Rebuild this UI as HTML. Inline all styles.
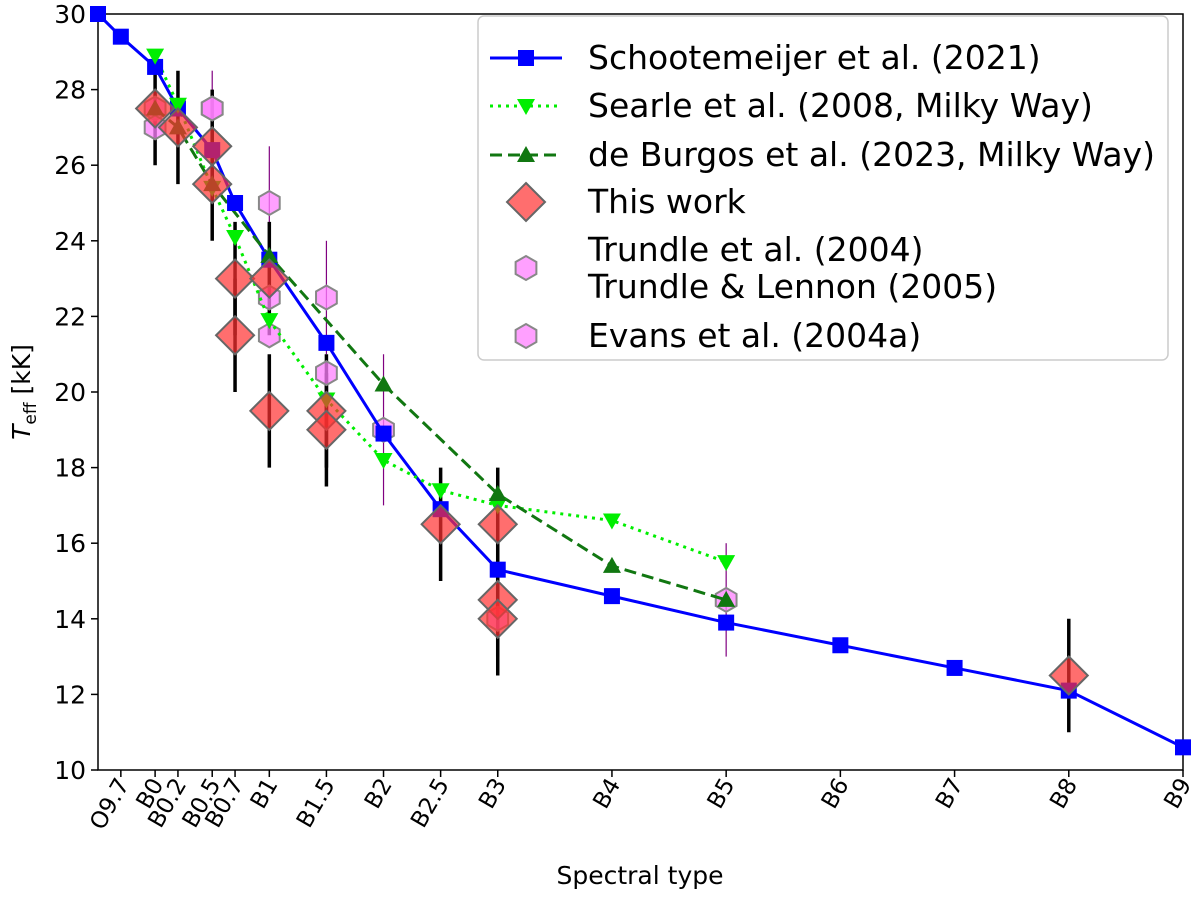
<!DOCTYPE html>
<html><head><meta charset="utf-8"><style>
body{margin:0;background:#fff;font-family:"DejaVu Sans","Liberation Sans",sans-serif}
svg text{font-family:"DejaVu Sans","Liberation Sans",sans-serif}
</style></head><body>
<svg id="c" width="1200" height="895" xmlns="http://www.w3.org/2000/svg"></svg>
<script>
const xTickVals=[-0.3,0,0.2,0.5,0.7,1,1.5,2,2.5,3,4,5,6,7,8,9];
const xTickLabels=["O9.7","B0","B0.2","B0.5","B0.7","B1","B1.5","B2","B2.5","B3","B4","B5","B6","B7","B8","B9"];
const yTicks=[10,12,14,16,18,20,22,24,26,28,30];
const schX=[-0.5,-0.3,0,0.2,0.5,0.7,1,1.5,2,2.5,3,4,5,6,7,8,9];
const schY=[30,29.4,28.6,27.5,26.4,25,23.5,21.3,18.9,16.9,15.3,14.6,13.9,13.3,12.7,12.1,10.6];
const seaX=[0,0.2,0.5,0.7,1,1.5,2,2.5,3,4,5];
const seaY=[28.9,27.6,25.4,24.1,21.9,19.8,18.2,17.4,17.0,16.6,15.5];
const burX=[0,0.2,0.5,1,2,3,4,5];
const burY=[27.5,27.0,25.5,23.6,20.2,17.3,15.4,14.5];
const twX=[0,0.2,0.5,0.5,0.7,0.7,1,1,1.5,1.5,2.5,3,3,3,8];
const twY=[27.5,27,26.5,25.5,23,21.5,23,19.5,19.5,19,16.5,16.5,14.5,14,12.5];
const twErr=[1.5,1.5,1.5,1.5,1.5,1.5,1.5,1.5,1.5,1.5,1.5,1.5,1.5,1.5,1.5];
const trX=[0,0,0.5,0.5,1,1,1.5,1.5,2,3,5];
const trY=[27.5,27,27.5,27.5,25,22.5,22.5,20.5,19,14,14.5];
const trErr=[0,0,1,0,1.5,0,1.5,0,2,1.5,1.5];
const evX=[1];
const evY=[21.5];
const X0=98,X1=1183,Y0=770,Y1=14;
const xs=v=>X0+(v+0.5)/9.5*(X1-X0);
const ys=v=>Y0-(v-10)/20*(Y0-Y1);
const svg=document.getElementById('c');
const NS='http://www.w3.org/2000/svg';
function mk(t,a,p){const e=document.createElementNS(NS,t);for(const k in a)e.setAttribute(k,a[k]);(p||svg).appendChild(e);return e;}
let fr=mk('rect',{x:X0,y:Y1,width:X1-X0,height:Y0-Y1,fill:'none',stroke:'#000','stroke-width':1.5});


yTicks.forEach(v=>{
  let l=mk('line',{x1:X0-7,x2:X0,y1:ys(v),y2:ys(v),stroke:'#000','stroke-width':1.5});
  
  
  let t=mk('text',{x:X0-12,y:ys(v)+9,'text-anchor':'end','font-size':25});
  t.textContent=v;
  
  
});
xTickVals.forEach((v,i)=>{
  let l=mk('line',{x1:xs(v),x2:xs(v),y1:Y0,y2:Y0+7,stroke:'#000','stroke-width':1.5});
  
  
  let t=mk('text',{x:xs(v)+9,y:Y0+14,'text-anchor':'end','font-size':23,transform:`rotate(-60 ${xs(v)+9} ${Y0+14})`});
  t.textContent=xTickLabels[i];
  
  
});
let xl=mk('text',{x:640,y:884,'text-anchor':'middle','font-size':25});xl.textContent='Spectral type';


let yl=mk('text',{x:0,y:0,'text-anchor':'middle','font-size':25,transform:'translate(30 392) rotate(-90)'});
yl.innerHTML='<tspan font-style="italic">T</tspan><tspan font-size="17" dy="6">eff</tspan><tspan dy="-6"> [kK]</tspan>';


function diamond(cx,cy,r){return `${cx},${cy-r} ${cx+r},${cy} ${cx},${cy+r} ${cx-r},${cy}`;}
function hex(cx,cy,r){let p=[];for(let k=0;k<6;k++){let a=Math.PI/6+k*Math.PI/3;p.push((cx+r*Math.cos(a))+','+(cy+r*Math.sin(a)));}return p.join(' ');}
trX.forEach((x,i)=>{if(trErr[i]>0){let l=mk('line',{x1:xs(x),x2:xs(x),y1:ys(trY[i]-trErr[i]),y2:ys(trY[i]+trErr[i]),stroke:'#800080','stroke-width':1.2});

}});
twX.forEach((x,i)=>{let l=mk('line',{x1:xs(x),x2:xs(x),y1:ys(twY[i]-twErr[i]),y2:ys(twY[i]+twErr[i]),stroke:'#000','stroke-width':3.5});

});
trX.forEach((x,i)=>{let h=mk('polygon',{points:hex(xs(x),ys(trY[i]),12),fill:'#ff80ff','fill-opacity':0.75,stroke:'#888','stroke-width':2});

});
evX.forEach((x,i)=>{let h=mk('polygon',{points:hex(xs(x),ys(evY[i]),12),fill:'#ff80ff','fill-opacity':0.75,stroke:'#888','stroke-width':2});

});
function line(X,Y,color,dash,w,name){let p=mk('polyline',{points:X.map((x,i)=>xs(x)+','+ys(Y[i])).join(' '),fill:'none',stroke:color,'stroke-width':w,'stroke-dasharray':dash});

}
line(schX,schY,'#0000ff','none',3,'schootemeijer-line');
line(seaX,seaY,'#00ee00','3 5',3,'searle-line');
line(burX,burY,'#117711','12 6',3,'deburgos-line');
schX.forEach((x,i)=>{let r=mk('rect',{x:xs(x)-8,y:ys(schY[i])-8,width:16,height:16,fill:'#0000ff'});

});
seaX.forEach((x,i)=>{let c=xs(x),d=ys(seaY[i]);let p=mk('polygon',{points:`${c-9},${d-7} ${c+9},${d-7} ${c},${d+9}`,fill:'#00ee00'});

});
burX.forEach((x,i)=>{let c=xs(x),d=ys(burY[i]);let p=mk('polygon',{points:`${c-9},${d+7} ${c+9},${d+7} ${c},${d-9}`,fill:'#117711'});

});
twX.forEach((x,i)=>{let p=mk('polygon',{points:diamond(xs(x),ys(twY[i]),19),fill:'#ff3030','fill-opacity':0.7,stroke:'#666','stroke-width':2});

});
const lg=mk('g',{});


mk('rect',{x:478,y:16,width:690,height:344,rx:6,fill:'#fff','fill-opacity':0.85,stroke:'#ccc','stroke-width':1.5},lg);
const LX=490,LX2=562,TX=588;
function ltext(y,s){let t=mk('text',{x:TX,y:y+11,'font-size':33},lg);t.textContent=s;}
mk('line',{x1:LX,x2:LX2,y1:58,y2:58,stroke:'#0000ff','stroke-width':3},lg);mk('rect',{x:518,y:50,width:16,height:16,fill:'#0000ff'},lg);ltext(58,'Schootemeijer et al. (2021)');
mk('line',{x1:LX,x2:LX2,y1:106,y2:106,stroke:'#00ee00','stroke-width':3,'stroke-dasharray':'3 5'},lg);mk('polygon',{points:'517,99 535,99 526,115',fill:'#00ee00'},lg);ltext(106,'Searle et al. (2008, Milky Way)');
mk('line',{x1:LX,x2:LX2,y1:155,y2:155,stroke:'#117711','stroke-width':3,'stroke-dasharray':'12 6'},lg);mk('polygon',{points:'517,162 535,162 526,146',fill:'#117711'},lg);ltext(155,'de Burgos et al. (2023, Milky Way)');
mk('polygon',{points:diamond(526,202,19),fill:'#ff3030','fill-opacity':0.7,stroke:'#666','stroke-width':2},lg);ltext(202,'This work');
mk('polygon',{points:hex(526,268,12),fill:'#ff80ff','fill-opacity':0.75,stroke:'#888','stroke-width':2},lg);ltext(250,'Trundle et al. (2004)');ltext(287,'Trundle & Lennon (2005)');
mk('polygon',{points:hex(526,336,12),fill:'#ff80ff','fill-opacity':0.75,stroke:'#888','stroke-width':2},lg);ltext(336,'Evans et al. (2004a)');
</script>
</body></html>
